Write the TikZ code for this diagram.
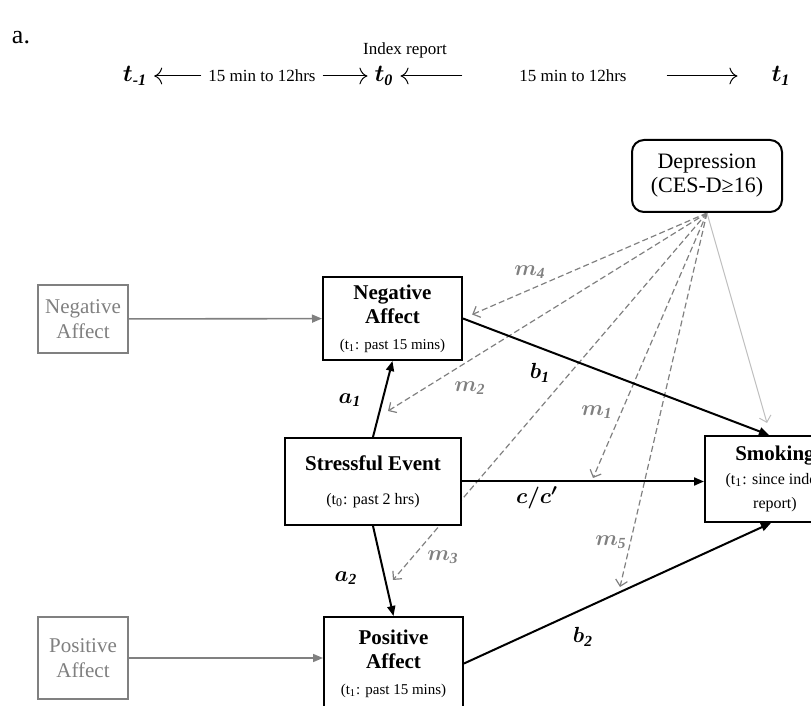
\documentclass[tikz,border=0pt]{standalone}
\usepackage{fontspec}
\setmainfont{Liberation Serif}
\usepackage{amsmath}
\usetikzlibrary{arrows.meta}
\pgfdeclarelayer{bg}
\pgfsetlayers{bg,main}
\definecolor{medgray}{RGB}{128,128,128}
\definecolor{ligray}{RGB}{190,190,190}
\newcommand{\boxhead}{\fontsize{10.5}{12}\selectfont\bfseries}
\newcommand{\boxsub}{\fontsize{7.5}{9}\selectfont}
\newcommand{\boxsubb}{\fontsize{8}{10}\selectfont}
\newcommand{\boxtime}{\fontsize{8.5}{10}\selectfont}

\begin{document}
\begin{tikzpicture}[x=0.5pt, y=-0.5pt,
    mainbox/.style={draw, line width=1pt, fill=white, align=center, inner sep=0pt},
    inbox/.style={draw=medgray, line width=1pt, fill=white, text=medgray, align=center,
      inner sep=0pt, minimum width=45pt, font=\fontsize{10.5}{12.5}\selectfont},
    depbox/.style={draw, line width=1pt, rounded corners=6pt, fill=white, align=center,
      inner sep=0pt, minimum width=75pt, minimum height=36pt, font=\fontsize{11}{12}\selectfont},
    effect/.style={line width=1pt, -{Triangle[length=5pt,width=4pt]}},
    input/.style={medgray, line width=0.8pt, -{Triangle[length=5pt,width=4pt]}},
    med/.style={medgray, line width=0.6pt, dash pattern=on 3pt off 1.6pt,
      -{Straight Barb[length=3pt,width=6pt]}},
    cov/.style={ligray, line width=0.5pt, -{Straight Barb[length=3pt,width=6pt]}},
    coef/.style={font=\fontsize{11}{13}\selectfont},
    mlbl/.style={text=medgray, font=\fontsize{11}{13}\selectfont}]
  \useasboundingbox (0,0) rectangle (811,706);
  \clip (0,0) rectangle (811,706);

  % Time line
  \node (pan) at (21,38) {\fontsize{13}{15}\selectfont a.};
  \node (idx) at (405,50) {\boxtime Index report};
  \node (tm1) at (135,76) {\fontsize{12}{14}\selectfont$\boldsymbol{t_{\textbf{\textit{-1}}}}$};
  \node (lbl1) at (262,76) {\boxtime 15 min to 12hrs};
  \node (t0) at (384,76) {\fontsize{12}{14}\selectfont$\boldsymbol{t_{\mathit{0}}}$};
  \node (lbl2) at (573,76) {\boxtime 15 min to 12hrs};
  \node (t1) at (781,76) {\fontsize{12}{14}\selectfont$\boldsymbol{t_{\mathit{1}}}$};
  \draw[line width=0.5pt, -{To[length=4pt]}] (lbl1) -- (tm1);
  \draw[line width=0.5pt, -{To[length=4pt]}] (lbl1) -- (t0);
  \draw[line width=0.5pt, -{To[length=4pt]}, shorten <=25pt] (lbl2) -- (t0);
  \draw[line width=0.5pt, -{To[length=4pt]}, shorten <=16.5pt, shorten >=13.5pt] (lbl2) -- (t1);

  % Boxes
  \node[depbox] (dep) at (707,176) {Depression\\(CES-D≥16)};
  \node[inbox, minimum height=34pt] (gna) at (83,319) {Negative\\Affect};
  \node[inbox, minimum height=41pt] (gpa) at (83,658) {Positive\\Affect};
  \node[mainbox, minimum width=69.5pt, minimum height=41.5pt] (na) at (392.5,318.5)
    {\boxhead Negative\\\boxhead Affect\\[1pt]\boxsub (t\textsubscript{1}: past 15 mins)};
  \node[mainbox, minimum width=88pt, minimum height=43.5pt] (se) at (373,481.5)
    {\boxhead Stressful Event\\[5pt]\boxsubb (t\textsubscript{0}: past 2 hrs)};
  \node[mainbox, minimum width=69.5pt, minimum height=46.5pt] (pa) at (393.5,663.5)
    {\boxhead Positive\\\boxhead Affect\\[1pt]\boxsub (t\textsubscript{1}: past 15 mins)};
  \node[mainbox, minimum width=70pt, minimum height=43pt] (smk) at (775,479)
    {\boxhead Smoking\\\boxsubb (t\textsubscript{1}: since index\\\boxsubb report)};

  % Ends of the mediation paths
  \coordinate (m2end) at (388,411);
  \coordinate (m3end) at (393,580);
  \coordinate (m1end) at (593,478);
  \coordinate (m5end) at (620,587);
  \coordinate (smkin) at (767,423);

  % Depression paths
  \begin{pgfonlayer}{bg}
    \draw[med, shorten >=5pt] (dep.south) -- (na.east);
    \draw[med] (dep.south) -- (m2end);
    \draw[med] (dep.south) -- (m3end);
    \draw[med] (dep.south) -- (m1end);
    \draw[med] (dep.south) -- (m5end);
    \draw[cov] (dep.south) -- (smkin);
  \end{pgfonlayer}

  % Inputs
  \draw[input] (gna) -- (na);
  \draw[input] (gpa.east) -- (gpa.east -| pa.west);

  % Effects
  \draw[effect] (se.north) -- (na.south);
  \draw[effect] (se.south) -- (pa.north);
  \draw[effect] (na.east) -- ([xshift=-3pt]smk.north);
  \draw[effect] (se.east) -- (se.east -| smk.west);
  \draw[effect] (pa.east) -- ([xshift=-2pt]smk.south);

  % Labels
  \node[coef] (la1) at (350,400) {$\boldsymbol{a_{\mathit{1}}}$};
  \node[coef] (la2) at (346,578) {$\boldsymbol{a_{\mathit{2}}}$};
  \node[coef] (lb1) at (540,373) {$\boldsymbol{b_{\mathit{1}}}$};
  \node[coef] (lb2) at (583,637) {$\boldsymbol{b_{\mathit{2}}}$};
  \node[coef] (lc) at (537,498) {$\boldsymbol{c/c'}$};
  \node[mlbl] (lm4) at (530,272) {$\boldsymbol{m_{\mathit{4}}}$};
  \node[mlbl] (lm2) at (470,388) {$\boldsymbol{m_{\mathit{2}}}$};
  \node[mlbl] (lm1) at (597,412) {$\boldsymbol{m_{\mathit{1}}}$};
  \node[mlbl] (lm3) at (443,557) {$\boldsymbol{m_{\mathit{3}}}$};
  \node[mlbl] (lm5) at (611,542) {$\boldsymbol{m_{\mathit{5}}}$};
\end{tikzpicture}
\end{document}
